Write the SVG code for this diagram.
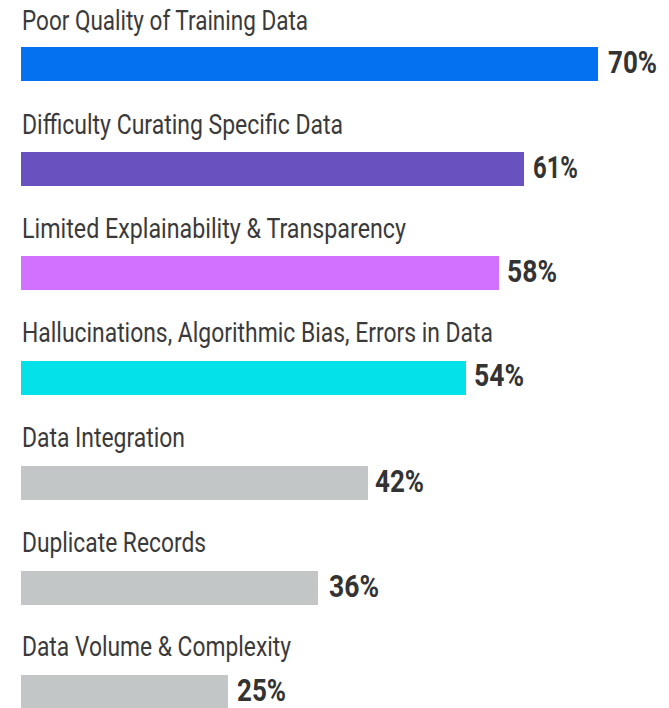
<svg xmlns="http://www.w3.org/2000/svg" width="669" height="708" viewBox="0 0 669 708">
<style>
.lbl{font-family:Roboto,"Liberation Sans",sans-serif;font-size:28.5px;fill:#3a3a3a;}
.val{font-family:Roboto,"Liberation Sans",sans-serif;font-size:31px;font-weight:700;fill:#333333;}
</style>
<rect width="669" height="708" fill="#ffffff"/>
<g id="bar1">
<text class="lbl" x="22" y="30" textLength="286" lengthAdjust="spacingAndGlyphs">Poor Quality of Training Data</text>
<rect x="21" y="47" width="577" height="34" fill="#0471F0"/>
<text class="val" x="608" y="73" textLength="49" lengthAdjust="spacingAndGlyphs">70%</text>
</g>
<g id="bar2">
<text class="lbl" x="22" y="134" textLength="321" lengthAdjust="spacingAndGlyphs">Difficulty Curating Specific Data</text>
<rect x="21" y="152" width="503" height="34" fill="#6A51C0"/>
<text class="val" x="533" y="178" textLength="45" lengthAdjust="spacingAndGlyphs">61%</text>
</g>
<g id="bar3">
<text class="lbl" x="22" y="238" textLength="384" lengthAdjust="spacingAndGlyphs">Limited Explainability &amp; Transparency</text>
<rect x="21" y="256" width="478" height="34" fill="#D271FF"/>
<text class="val" x="507" y="282" textLength="50" lengthAdjust="spacingAndGlyphs">58%</text>
</g>
<g id="bar4">
<text class="lbl" x="22" y="342" textLength="471" lengthAdjust="spacingAndGlyphs">Hallucinations, Algorithmic Bias, Errors in Data</text>
<rect x="21" y="361" width="445" height="34" fill="#05E1E8"/>
<text class="val" x="474" y="386" textLength="50" lengthAdjust="spacingAndGlyphs">54%</text>
</g>
<g id="bar5">
<text class="lbl" x="22" y="447" textLength="163" lengthAdjust="spacingAndGlyphs">Data Integration</text>
<rect x="21" y="466" width="347" height="34" fill="#C3C6C7"/>
<text class="val" x="375" y="492" textLength="49" lengthAdjust="spacingAndGlyphs">42%</text>
</g>
<g id="bar6">
<text class="lbl" x="22" y="552" textLength="184" lengthAdjust="spacingAndGlyphs">Duplicate Records</text>
<rect x="21" y="571" width="297" height="34" fill="#C3C6C7"/>
<text class="val" x="329" y="597" textLength="50" lengthAdjust="spacingAndGlyphs">36%</text>
</g>
<g id="bar7">
<text class="lbl" x="22" y="656" textLength="269" lengthAdjust="spacingAndGlyphs">Data Volume &amp; Complexity</text>
<rect x="21" y="675" width="207" height="34" fill="#C3C6C7"/>
<text class="val" x="237" y="701" textLength="49" lengthAdjust="spacingAndGlyphs">25%</text>
</g>
</svg>
